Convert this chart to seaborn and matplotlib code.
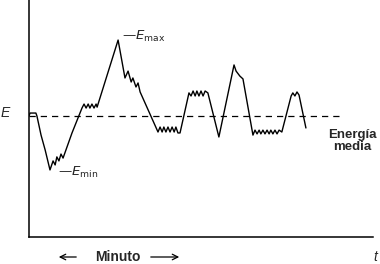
import matplotlib
matplotlib.use("Agg")
import matplotlib.pyplot as plt
import seaborn as sns
import pandas as pd

# time (arbitrary units) and energy (arbitrary units)
t = [0.0, 0.3, 2.0, 2.3, 3.5, 4.7, 6.1, 7.0, 7.6, 8.1, 8.7, 9.3, 9.9, 12.5, 15.4,
     16.0, 16.6, 17.2, 17.7, 18.3, 18.9, 19.5, 19.8,
     25.9, 27.9, 28.8, 29.7, 30.2, 31.1, 31.7, 32.3, 37.5,
     38.1, 38.7, 39.2, 39.8, 40.4, 41.0, 41.6, 42.2, 42.7, 43.3, 43.9,
     46.5, 47.1, 47.7, 48.3, 48.8, 49.4, 50.0, 50.6, 51.2, 52.0,
     55.2, 59.6, 60.2, 61.3, 62.2, 65.1,
     65.7, 66.3, 66.9, 67.4, 68.0, 68.6, 69.2, 69.8, 70.3, 70.9, 71.5, 72.1, 72.7, 73.5,
     76.2, 76.7, 77.3, 77.9, 78.5, 80.5]
E = [51.1, 52.3, 52.3, 51.1, 43.0, 36.7, 28.3, 32.1, 30.4, 33.8, 32.1, 35.0, 33.3, 43.9, 54.4,
     56.1, 54.4, 56.1, 54.4, 56.1, 54.4, 56.1, 54.8,
     83.1, 67.1, 70.0, 65.4, 67.1, 63.3, 65.0, 61.2, 44.3,
     46.4, 44.3, 46.4, 44.3, 46.4, 44.3, 46.4, 44.3, 46.4, 43.9, 43.9,
     60.8, 59.5, 61.6, 59.5, 61.6, 59.5, 61.6, 59.5, 61.6, 60.8,
     42.2, 72.6, 70.0, 67.9, 66.7, 43.0,
     45.1, 43.5, 45.1, 43.5, 45.1, 43.5, 45.1, 43.5, 45.1, 43.5, 45.1, 43.5, 45.1, 44.3,
     59.5, 60.8, 59.5, 61.2, 59.9, 46.0]
E_mean = 51.05
mean_t = [0.0, 91.3]

df = pd.DataFrame({"t": t, "E": E})
df_mean = pd.DataFrame({"t": mean_t, "E": [E_mean, E_mean]})

sns.set_style("white")
plt.rcParams["mathtext.fontset"] = "dejavusans"
fig = plt.figure(figsize=(3.8, 2.64), dpi=100)
ax = fig.add_axes([29/380, 27/264, 344/380, 237/264])

sns.lineplot(data=df, x="t", y="E", sort=False, estimator=None, color="black", lw=1.0, ax=ax)
sns.lineplot(data=df_mean, x="t", y="E", sort=False, estimator=None, color="black", lw=0.9,
             linestyle=(0, (5, 4)), ax=ax)

ax.set_xlim(0, 100)
ax.set_ylim(0, 100)
for s in ["top", "right"]:
    ax.spines[s].set_visible(False)
for s in ["left", "bottom"]:
    ax.spines[s].set_color("black")
    ax.spines[s].set_linewidth(1.1)
ax.set_xticks([67.7])
ax.set_xticklabels([""])
ax.tick_params(axis="x", direction="out", length=3, width=0.8, color="black")
ax.set_yticks([])
ax.set_xlabel("")
ax.set_ylabel("")

ax.text(-6.8, 52.3, "E", fontsize=10, fontstyle="italic", family="Liberation Sans",
        ha="center", va="center", clip_on=False)
ax.text(27.0, 84.8, r"—$E_{\rm max}$", fontsize=9.5, ha="left", va="center")
ax.text(8.4, 27.4, r"—$E_{\rm min}$", fontsize=9.5, ha="left", va="center")
ax.text(94.0, 40.5, "Energía\nmedia", fontsize=9.5, fontweight="bold", family="Liberation Sans",
        ha="center", va="center", linespacing=0.95, clip_on=False)

fig.text(118/380, 7/264, "Minuto", fontsize=10, fontweight="bold", family="Liberation Sans",
         ha="center", va="center")
fig.text(375/380, 7/264, "t", fontsize=10, fontstyle="italic", family="Liberation Sans",
         ha="center", va="center")
ax.annotate("", xy=(56, 7), xytext=(79, 7), xycoords="figure pixels", textcoords="figure pixels",
            arrowprops=dict(arrowstyle="->", color="black", lw=0.9))
ax.annotate("", xy=(182, 7), xytext=(148, 7), xycoords="figure pixels", textcoords="figure pixels",
            arrowprops=dict(arrowstyle="->", color="black", lw=0.9))

fig.savefig("out.png", dpi=100)
